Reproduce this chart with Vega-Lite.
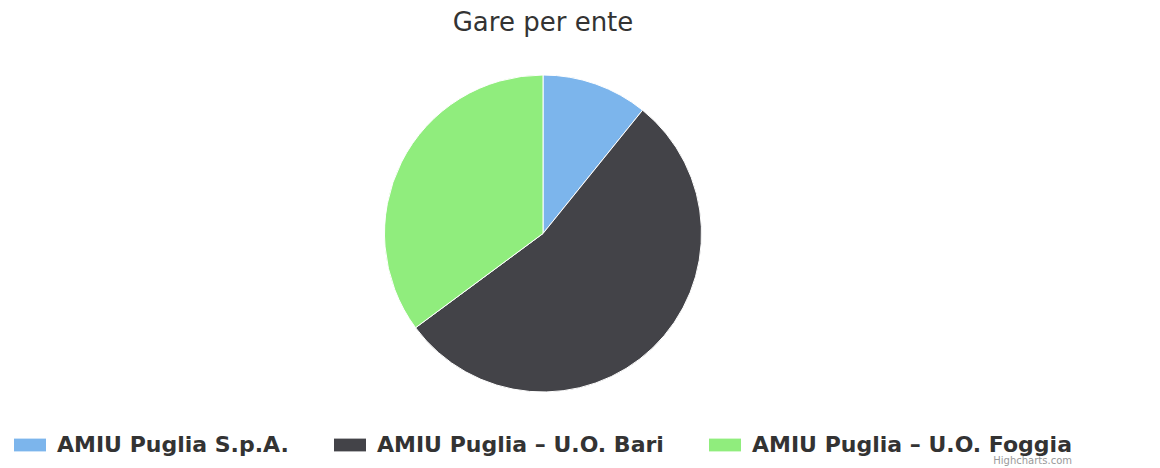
{
  "$schema": "https://vega.github.io/schema/vega-lite/v6.json",
  "autosize": "none",
  "width": 1086,
  "height": 317,
  "padding": {"left": 0, "top": 75, "right": 74, "bottom": 76},
  "background": "#ffffff",
  "title": {
    "text": "Gare per ente",
    "fontSize": 26,
    "font": "DejaVu Sans",
    "fontWeight": "normal",
    "color": "#333333",
    "anchor": "middle",
    "offset": 37
  },
  "data": {
    "values": [
      {"ente": "AMIU Puglia S.p.A.", "gare": 4, "idx": 1},
      {"ente": "AMIU Puglia – U.O. Bari", "gare": 20, "idx": 2},
      {"ente": "AMIU Puglia – U.O. Foggia", "gare": 13, "idx": 3}
    ]
  },
  "mark": {"type": "arc", "stroke": "#ffffff", "strokeWidth": 1},
  "encoding": {
    "theta": {"field": "gare", "type": "quantitative", "stack": true},
    "order": {"field": "idx", "type": "quantitative"},
    "color": {
      "field": "ente",
      "type": "nominal",
      "scale": {
        "domain": ["AMIU Puglia S.p.A.", "AMIU Puglia – U.O. Bari", "AMIU Puglia – U.O. Foggia"],
        "range": ["#7cb5ec", "#434348", "#90ed7d"]
      },
      "legend": {
        "title": "Highcharts.com",
        "titleOrient": "bottom",
        "titleAnchor": "end",
        "titleFont": "DejaVu Sans",
        "titleFontSize": 10,
        "titleFontWeight": "normal",
        "titleColor": "#999999",
        "titlePadding": 0,
        "orient": "bottom",
        "direction": "horizontal",
        "offset": 37,
        "symbolType": "M-1,-0.4H1V0.4H-1Z",
        "symbolSize": 1024,
        "symbolStrokeWidth": 0,
        "labelFont": "DejaVu Sans",
        "labelFontSize": 22,
        "labelFontWeight": "bold",
        "labelColor": "#333333",
        "labelOffset": 11,
        "labelLimit": 500,
        "columnPadding": 45
      }
    }
  },
  "config": {
    "view": {"stroke": null},
    "legend": {"layout": {"bottom": {"anchor": "middle"}}}
  }
}
